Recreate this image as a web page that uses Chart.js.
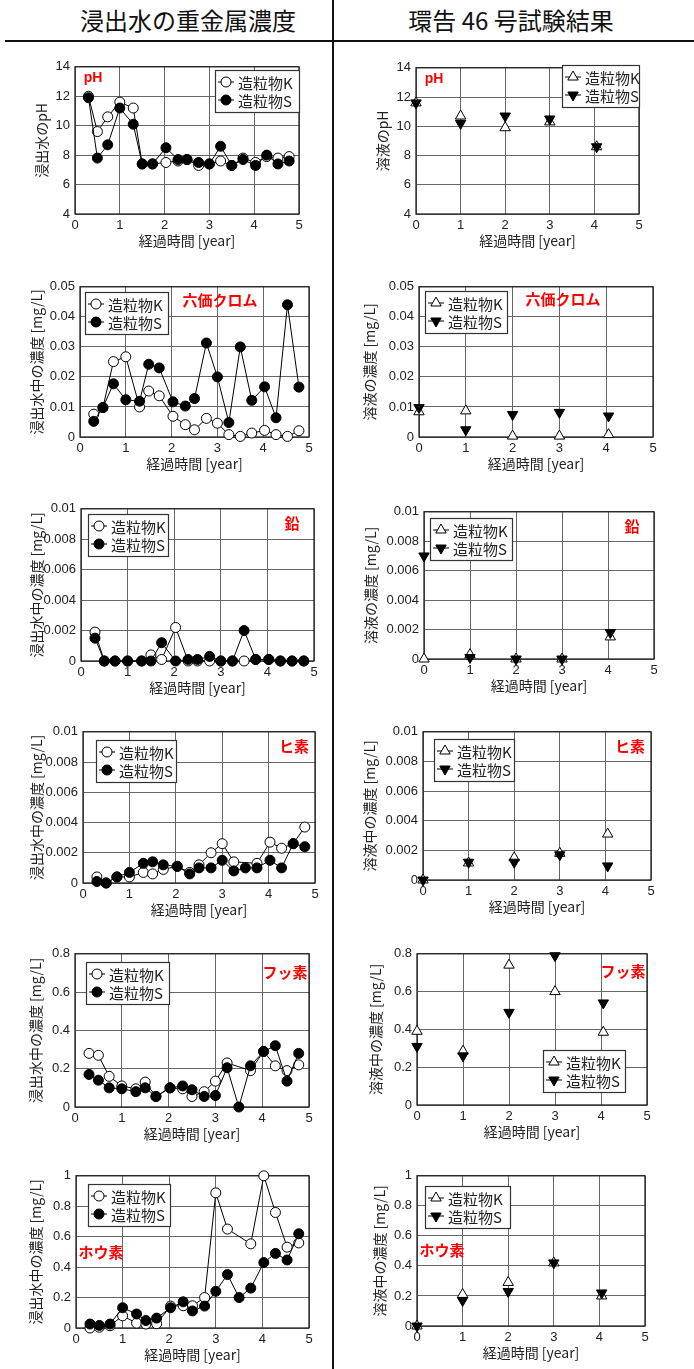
<!DOCTYPE html>
<html>
<head>
<meta charset="utf-8">
<script src="https://cdn.jsdelivr.net/npm/chart.js@4.4.0/dist/chart.umd.min.js"></script>
<style>
  body { margin: 0; background: #fff; width: 694px; height: 1369px; position: relative; overflow: hidden; font-family: 'Noto Sans CJK JP', sans-serif; }
  .hd { position: absolute; top: 4px; font-size: 24px; line-height: 32px; color: #111; transform: translateX(-50%); white-space: nowrap; }
  canvas { position: absolute; }
</style>
</head>
<body>
<div class="hd" style="left:188px">浸出水の重金属濃度</div>
<div class="hd" style="left:511px">環告 46 号試験結果</div>
<div style="position:absolute;left:5px;right:0;top:40px;height:2px;background:#111"></div>
<div style="position:absolute;left:332px;top:0;width:2px;height:1369px;background:#111"></div>
<script>
// elapsed time [year]
const tLeach = [0.3, 0.5, 0.73, 1.0, 1.3, 1.5, 1.73, 2.03, 2.3, 2.5, 2.76, 3.0, 3.25, 3.5, 3.75, 4.03, 4.28, 4.53, 4.78];
const tTest = [0, 1, 2, 3, 4.05];

// pH
const phLeachK = [12.0, 9.6, 10.6, 11.6, 11.2, 7.4, 7.4, 7.5, 7.6, 7.7, 7.3, 7.4, 7.6, 7.3, 7.8, 7.5, 7.9, 7.8, 7.9];
const phLeachS = [11.9, 7.8, 8.7, 11.2, 10.1, 7.4, 7.4, 8.5, 7.7, 7.7, 7.5, 7.4, 8.6, 7.3, 7.7, 7.3, 8.0, 7.4, 7.6];
const phTestK = [11.6, 10.7, 9.9, 10.3, 8.6];
const phTestS = [11.6, 10.2, 10.7, 10.5, 8.6];

// hexavalent chromium [mg/L]
const crLeachK = [0.0076, 0.0098, 0.0251, 0.0267, 0.0100, 0.0153, 0.0137, 0.0069, 0.0041, 0.0024, 0.0062, 0.0046, 0.0008, 0.0002, 0.0013, 0.0022, 0.0008, 0.0002, 0.0021];
const crLeachS = [0.0052, 0.0098, 0.0177, 0.0124, 0.0119, 0.0242, 0.0230, 0.0117, 0.0103, 0.0128, 0.0313, 0.0200, 0.0048, 0.0300, 0.0122, 0.0167, 0.0064, 0.0440, 0.0166];
const crTestK = [0.0084, 0.0087, 0.0003, 0.0003, 0.0008];
const crTestS = [0.0098, 0.0024, 0.0075, 0.0082, 0.0070];

// lead [mg/L]
const pbLeachK = [0.0019, 0, 0, 0, 0, 0.0004, 0.0001, 0.0022, 0, 0, 0, 0, 0, 0, 0.0001, 0.0001, 0, 0, 0];
const pbLeachS = [0.0015, 0, 0, 0, 0, 0, 0.0012, 0, 0.0001, 0.0001, 0.0003, 0, 0, 0.0020, 0.0001, 0.0001, 0, 0, 0];
const pbTestK = [0, 0.0003, 0, 0, 0.0015];
const pbTestS = [0.0070, 0.0001, 0, 0, 0.0018];

// arsenic [mg/L]
const asLeachK = [0.0004, 0, 0.0004, 0.0004, 0.0007, 0.0006, 0.0009, 0.0011, 0.0007, 0.0012, 0.0020, 0.0026, 0.0014, null, 0.0013, 0.0027, 0.0023, 0.0026, 0.0037];
const asLeachS = [0.0001, 0, 0.0004, 0.0007, 0.0013, 0.0014, 0.0012, 0.0011, 0.0006, 0.0010, 0.0010, 0.0015, 0.0008, 0.0010, 0.0010, 0.0015, 0.0010, 0.0026, 0.0024];
const asTestK = [0, 0.00115, 0.0015, 0.0018, 0.0031];
const asTestS = [0, 0.0012, 0.0012, 0.0017, 0.00095];

// fluorine [mg/L]
const fLeachK = [0.28, 0.27, 0.16, 0.11, 0.095, 0.13, 0.055, 0.10, 0.095, 0.055, 0.08, 0.135, 0.23, null, 0.19, 0.29, 0.215, 0.19, 0.22];
const fLeachS = [0.17, 0.14, 0.10, 0.095, 0.08, 0.10, 0.055, 0.10, 0.11, 0.09, 0.055, 0.06, 0.205, 0, 0.215, 0.29, 0.32, 0.135, 0.28];
const fTestK = [0.39, 0.285, 0.74, 0.60, 0.385];
const fTestS = [0.31, 0.26, 0.49, 0.79, 0.54];

// boron [mg/L]
const bLeachK = [0.0, 0.005, 0.015, 0.08, 0.032, 0.026, 0.028, 0.144, 0.146, 0.146, 0.20, 0.888, 0.65, null, 0.553, 1.0, 0.759, 0.531, 0.559];
const bLeachS = [0.026, 0.017, 0.026, 0.133, 0.092, 0.049, 0.065, 0.133, 0.172, 0.112, 0.144, 0.241, 0.351, 0.20, 0.262, 0.43, 0.49, 0.447, 0.619];
const bTestK = [0, 0.21, 0.29, 0.42, 0.20];
const bTestS = [0, 0.17, 0.23, 0.42, 0.22];

const seriesNames = ['造粒物K', '造粒物S'];
const xTitle = '経過時間 [year]';
const leachTitle = '浸出水中の濃度 [mg/L]';

const CJK = "'Noto Sans CJK JP', sans-serif";
Chart.defaults.font.family = "'Liberation Sans', Arial, sans-serif";
Chart.defaults.color = '#222';

// plot: [left, top, right, bottom] in page px, tx = y title centre x
const panels = [
  { plot: [75, 64, 299, 214], tx: 42, min: 4, max: 14, step: 2, yTitle: '浸出水のpH', t: tLeach, k: phLeachK, s: phLeachS, line: true, legend: [215, 70, 84], tag: 'pH', tagAt: [93, 78] },
  { plot: [416, 65, 639, 214], tx: 383, min: 4, max: 14, step: 2, yTitle: '溶液のpH', t: tTest, k: phTestK, s: phTestS, line: false, legend: [562, 65, 77], tag: 'pH', tagAt: [434, 79] },
  { plot: [80, 284, 309, 437], tx: 37, min: 0, max: 0.05, step: 0.01, yTitle: leachTitle, t: tLeach, k: crLeachK, s: crLeachS, line: true, legend: [85, 292, 83], tag: '六価クロム', tagAt: [220, 300] },
  { plot: [419, 284, 653, 437], tx: 370, min: 0, max: 0.05, step: 0.01, yTitle: '溶液の濃度 [mg/L]', t: tTest, k: crTestK, s: crTestS, line: false, legend: [425, 291, 82], tag: '六価クロム', tagAt: [563, 299] },
  { plot: [81, 506, 314, 661], tx: 37, min: 0, max: 0.01, step: 0.002, yTitle: leachTitle, t: tLeach, k: pbLeachK, s: pbLeachS, line: true, legend: [88, 514, 80], tag: '鉛', tagAt: [292, 523] },
  { plot: [424, 509, 654, 659], tx: 371, min: 0, max: 0.01, step: 0.002, yTitle: '溶液の濃度 [mg/L]', t: tTest, k: pbTestK, s: pbTestS, line: false, legend: [430, 518, 82], tag: '鉛', tagAt: [632, 526] },
  { plot: [83, 729, 315, 883], tx: 37, min: 0, max: 0.01, step: 0.002, yTitle: leachTitle, t: tLeach, k: asLeachK, s: asLeachS, line: true, legend: [96, 740, 80], tag: 'ヒ素', tagAt: [294, 746] },
  { plot: [423, 729, 651, 880], tx: 370, min: 0, max: 0.01, step: 0.002, yTitle: '溶液中の濃度 [mg/L]', t: tTest, k: asTestK, s: asTestS, line: false, legend: [434, 739, 80], tag: 'ヒ素', tagAt: [630, 746] },
  { plot: [75, 951, 309, 1107], tx: 36, min: 0, max: 0.8, step: 0.2, yTitle: leachTitle, t: tLeach, k: fLeachK, s: fLeachS, line: true, legend: [86, 962, 83], tag: 'フッ素', tagAt: [285, 972] },
  { plot: [417, 951, 647, 1105], tx: 376, min: 0, max: 0.8, step: 0.2, yTitle: '溶液中の濃度 [mg/L]', t: tTest, k: fTestK, s: fTestS, line: false, legend: [543, 1050, 82], tag: 'フッ素', tagAt: [623, 971] },
  { plot: [76, 1173, 309, 1328], tx: 36, min: 0, max: 1, step: 0.2, yTitle: leachTitle, t: tLeach, k: bLeachK, s: bLeachS, line: true, legend: [88, 1184, 82], tag: 'ホウ素', tagAt: [101, 1252] },
  { plot: [417, 1173, 645, 1326], tx: 380, min: 0, max: 1, step: 0.2, yTitle: '溶液中の濃度 [mg/L]', t: tTest, k: bTestK, s: bTestS, line: false, legend: [425, 1186, 85], tag: 'ホウ素', tagAt: [442, 1250] }
];

function mark(ctx, kind, filled, x, y) {
  ctx.beginPath();
  if (kind === 'circle') {
    ctx.arc(x, y, 5, 0, Math.PI * 2);
  } else {
    const r = 6, d = kind === 'up' ? 1 : -1;
    ctx.moveTo(x, y - d * r);
    ctx.lineTo(x + r * 0.866, y + d * r * 0.5);
    ctx.lineTo(x - r * 0.866, y + d * r * 0.5);
    ctx.closePath();
  }
  ctx.fillStyle = filled ? '#000' : '#fff';
  ctx.fill();
  ctx.strokeStyle = '#000';
  ctx.lineWidth = 1;
  ctx.stroke();
}

function points(t, v) {
  return t.map((x, i) => ({ x, y: v[i] })).filter(d => d.y !== null);
}

panels.forEach(p => {
  const [l, t, r, b] = p.plot;
  const cvLeft = p.tx - 9, cvTop = t - 10;
  const W = l - cvLeft, H = 40;
  const cw = r - cvLeft + 14, ch = b + H - cvTop;
  const cv = document.createElement('canvas');
  cv.width = cw; cv.height = ch;
  cv.style.left = cvLeft + 'px'; cv.style.top = cvTop + 'px';
  document.body.appendChild(cv);

  const deco = {
    id: 'deco',
    beforeDatasetsDraw(chart) {
      const { ctx, chartArea: a } = chart;
      ctx.save();
      ctx.strokeStyle = '#222';
      ctx.lineWidth = 1.3;
      ctx.strokeRect(a.left, a.top, a.right - a.left, a.bottom - a.top);
      ctx.restore();
    },
    afterDatasetsDraw(chart) {
      const ctx = chart.ctx;
      ctx.save();
      // red element label
      ctx.fillStyle = '#f00';
      ctx.font = p.tag === 'pH' ? "bold 14px 'Liberation Sans', Arial, sans-serif" : "bold 15px " + CJK;
      ctx.textAlign = 'center';
      ctx.textBaseline = 'middle';
      ctx.fillText(p.tag, p.tagAt[0] - cvLeft, p.tagAt[1] - cvTop);
      // boxed legend
      const [lx0, ly0, lw] = p.legend;
      const lx = lx0 - cvLeft, ly = ly0 - cvTop;
      ctx.fillStyle = '#fff';
      ctx.fillRect(lx, ly, lw, 42);
      ctx.strokeStyle = '#333';
      ctx.lineWidth = 1.2;
      ctx.strokeRect(lx + 0.5, ly + 0.5, lw, 42);
      ctx.font = '15px ' + CJK;
      ctx.textAlign = 'left';
      seriesNames.forEach((name, i) => {
        const y = ly + 12 + i * 18;
        ctx.strokeStyle = '#000';
        ctx.lineWidth = 1;
        ctx.beginPath();
        ctx.moveTo(lx + 3, y);
        ctx.lineTo(lx + 19, y);
        ctx.stroke();
        const kind = p.line ? 'circle' : (i === 0 ? 'up' : 'down');
        mark(ctx, kind, i === 1, lx + 11, y);
        ctx.fillStyle = '#222';
        ctx.fillText(name, lx + 23, y + 1);
      });
      ctx.restore();
    }
  };

  const base = {
    showLine: p.line,
    borderColor: '#000',
    borderWidth: 1,
    pointBorderColor: '#000',
    pointBorderWidth: 1,
    pointStyle: p.line ? 'circle' : 'triangle',
    pointRadius: p.line ? 5 : 6,
    clip: false
  };

  new Chart(cv, {
    type: 'scatter',
    data: {
      datasets: [
        Object.assign({}, base, { label: seriesNames[0], data: points(p.t, p.k), pointBackgroundColor: '#fff', order: 1 }),
        Object.assign({}, base, { label: seriesNames[1], data: points(p.t, p.s), pointBackgroundColor: '#000', pointRotation: p.line ? 0 : 180, order: 0 })
      ]
    },
    options: {
      responsive: false,
      animation: false,
      devicePixelRatio: 1,
      events: [],
      layout: { padding: { top: 10, right: 14, left: 0, bottom: 0 } },
      plugins: { legend: { display: false }, tooltip: { enabled: false } },
      scales: {
        x: {
          type: 'linear', min: 0, max: 5,
          ticks: { stepSize: 1, padding: 4, font: { size: 13 }, maxRotation: 0 },
          grid: { color: '#666', drawTicks: false },
          border: { display: false },
          title: { display: true, text: xTitle, padding: { top: 0, bottom: 6 }, font: { size: 14, family: CJK, lineHeight: 1 } },
          afterFit: s => { s.height = H; }
        },
        y: {
          type: 'linear', min: p.min, max: p.max,
          ticks: { stepSize: p.step, padding: 5, font: { size: 13 }, callback: v => String(+v.toFixed(4)) },
          grid: { color: '#666', drawTicks: false },
          border: { display: false },
          title: { display: true, text: p.yTitle, padding: { top: 2, bottom: 0 }, font: { size: 14, family: CJK, lineHeight: 1 } },
          afterFit: s => { s.width = W; }
        }
      }
    },
    plugins: [deco]
  });
});
</script>
</body>
</html>
